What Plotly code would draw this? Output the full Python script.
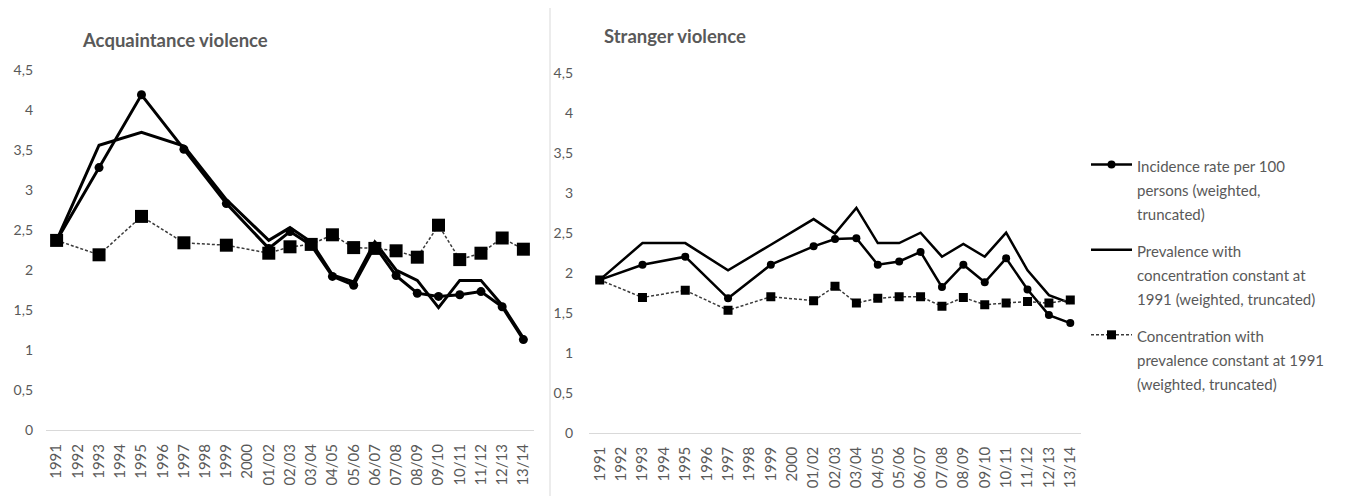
import plotly.graph_objects as go

# Survey periods on the horizontal axis
periods = ["1991", "1992", "1993", "1994", "1995", "1996", "1997", "1998", "1999", "2000",
           "01/02", "02/03", "03/04", "04/05", "05/06", "06/07", "07/08", "08/09", "09/10",
           "10/11", "11/12", "12/13", "13/14"]

# Acquaintance violence (no survey in even years before 2000)
acq_incidence = [2.37, None, 3.28, None, 4.19, None, 3.51, None, 2.83, None,
                 2.27, 2.48, 2.31, 1.92, 1.81, 2.30, 1.93, 1.71, 1.67, 1.69, 1.73, 1.54, 1.13]
acq_prevalence = [2.37, None, 3.56, None, 3.72, None, 3.55, None, 2.88, None,
                  2.37, 2.53, 2.35, 1.94, 1.85, 2.35, 2.00, 1.87, 1.53, 1.87, 1.87, 1.56, 1.15]
acq_concentration = [2.37, None, 2.19, None, 2.67, None, 2.34, None, 2.31, None,
                     2.21, 2.29, 2.32, 2.44, 2.28, 2.27, 2.24, 2.16, 2.56, 2.13, 2.21, 2.40, 2.26]

# Stranger violence
str_incidence = [1.91, None, 2.10, None, 2.20, None, 1.68, None, 2.10, None,
                 2.33, 2.42, 2.43, 2.10, 2.14, 2.26, 1.82, 2.10, 1.88, 2.18, 1.79, 1.47, 1.37]
str_prevalence = [1.91, None, 2.37, None, 2.37, None, 2.03, None, 2.35, None,
                  2.67, 2.49, 2.81, 2.37, 2.37, 2.50, 2.20, 2.36, 2.20, 2.50, 2.03, 1.72, 1.62]
str_concentration = [1.91, None, 1.69, None, 1.78, None, 1.53, None, 1.70, None,
                     1.65, 1.83, 1.62, 1.68, 1.70, 1.70, 1.58, 1.69, 1.60, 1.62, 1.64, 1.62, 1.66]

y_ticks = [0, 0.5, 1, 1.5, 2, 2.5, 3, 3.5, 4, 4.5]

series_names = [
    "Incidence rate per 100<br>persons (weighted,<br>truncated)",
    "Prevalence with<br>concentration constant at<br>1991 (weighted, truncated)",
    "Concentration with<br>prevalence constant at 1991<br>(weighted, truncated)",
]

W, H = 1352, 496
TXT = "#595959"
FONT = "Lato"


def px_x(p):
    return p / W


def px_y(p):
    return 1 - p / H


def legend_label(name):
    # smaller glyphs on a taller line pitch
    return "<br>".join('<span style="font-size:15px">%s</span>' % part for part in name.split("<br>"))


fig = go.Figure()

panels = [
    ("x", "y", acq_incidence, acq_prevalence, acq_concentration, 9, 13, 3.0, False),
    ("x2", "y2", str_incidence, str_prevalence, str_concentration, 8, 9, 2.5, True),
]

for xa, ya, inc, prev, conc, csize, ssize, lw, show in panels:
    fig.add_trace(go.Scatter(
        x=periods, y=inc, xaxis=xa, yaxis=ya, mode="lines+markers", connectgaps=True,
        name=legend_label(series_names[0]), legendgroup="a", showlegend=show,
        line=dict(color="black", width=lw),
        marker=dict(symbol="circle", size=csize, color="black")))
    fig.add_trace(go.Scatter(
        x=periods, y=prev, xaxis=xa, yaxis=ya, mode="lines", connectgaps=True,
        name=legend_label(series_names[1]), legendgroup="b", showlegend=show,
        line=dict(color="black", width=lw)))
    fig.add_trace(go.Scatter(
        x=periods, y=conc, xaxis=xa, yaxis=ya, mode="lines+markers", connectgaps=True,
        name=legend_label(series_names[2]), legendgroup="c", showlegend=show,
        line=dict(color="#3a3a3a", width=1.5, dash="3px,2px"),
        marker=dict(symbol="square", size=ssize, color="black")))

xaxis_common = dict(
    type="category", range=[-0.5, len(periods) - 0.5], showgrid=False, zeroline=False,
    showline=True, linecolor="#d9d9d9", linewidth=1, ticks="", tickangle=-90,
    tickfont=dict(family=FONT, size=15, color=TXT), ticklabelstandoff=7,
    categoryorder="array", categoryarray=periods, automargin=False,
)
yaxis_common = dict(
    range=[0, 4.5], tickvals=y_ticks, showgrid=False, zeroline=False, showline=False,
    ticks="", tickfont=dict(family=FONT, size=14, color=TXT),
    automargin=False,
)

fig.update_layout(
    width=W, height=H, margin=dict(l=0, r=0, t=0, b=0, autoexpand=False),
    paper_bgcolor="white", plot_bgcolor="white", separators=",.",
    xaxis=dict(domain=[px_x(46), px_x(534)], anchor="y", **xaxis_common),
    yaxis=dict(domain=[px_y(430), px_y(70)], anchor="x", ticklabelstandoff=12, **yaxis_common),
    xaxis2=dict(domain=[px_x(589), px_x(1081)], anchor="y2", **xaxis_common),
    yaxis2=dict(domain=[px_y(432.7), px_y(72.7)], anchor="x2", ticklabelstandoff=15, **yaxis_common),
    legend=dict(
        x=px_x(1086), y=px_y(146), xanchor="left", yanchor="top",
        font=dict(family=FONT, size=18.5, color=TXT), valign="top",
        itemwidth=41, tracegroupgap=10, traceorder="grouped", bgcolor="rgba(0,0,0,0)",
    ),
    showlegend=True,
    annotations=[
        dict(text="<b>Acquaintance violence</b>", x=px_x(80), y=px_y(40), xref="paper", yref="paper",
             xanchor="left", yanchor="middle", showarrow=False,
             font=dict(family=FONT, size=18.5, color=TXT)),
        dict(text="<b>Stranger violence</b>", x=px_x(602), y=px_y(36), xref="paper", yref="paper",
             xanchor="left", yanchor="middle", showarrow=False,
             font=dict(family=FONT, size=18.5, color=TXT)),
    ],
    shapes=[
        dict(type="line", xref="paper", yref="paper", x0=px_x(550), x1=px_x(550),
             y0=0, y1=px_y(8), line=dict(color="#d9d9d9", width=1)),
    ],
)

fig.write_html("out.html")
